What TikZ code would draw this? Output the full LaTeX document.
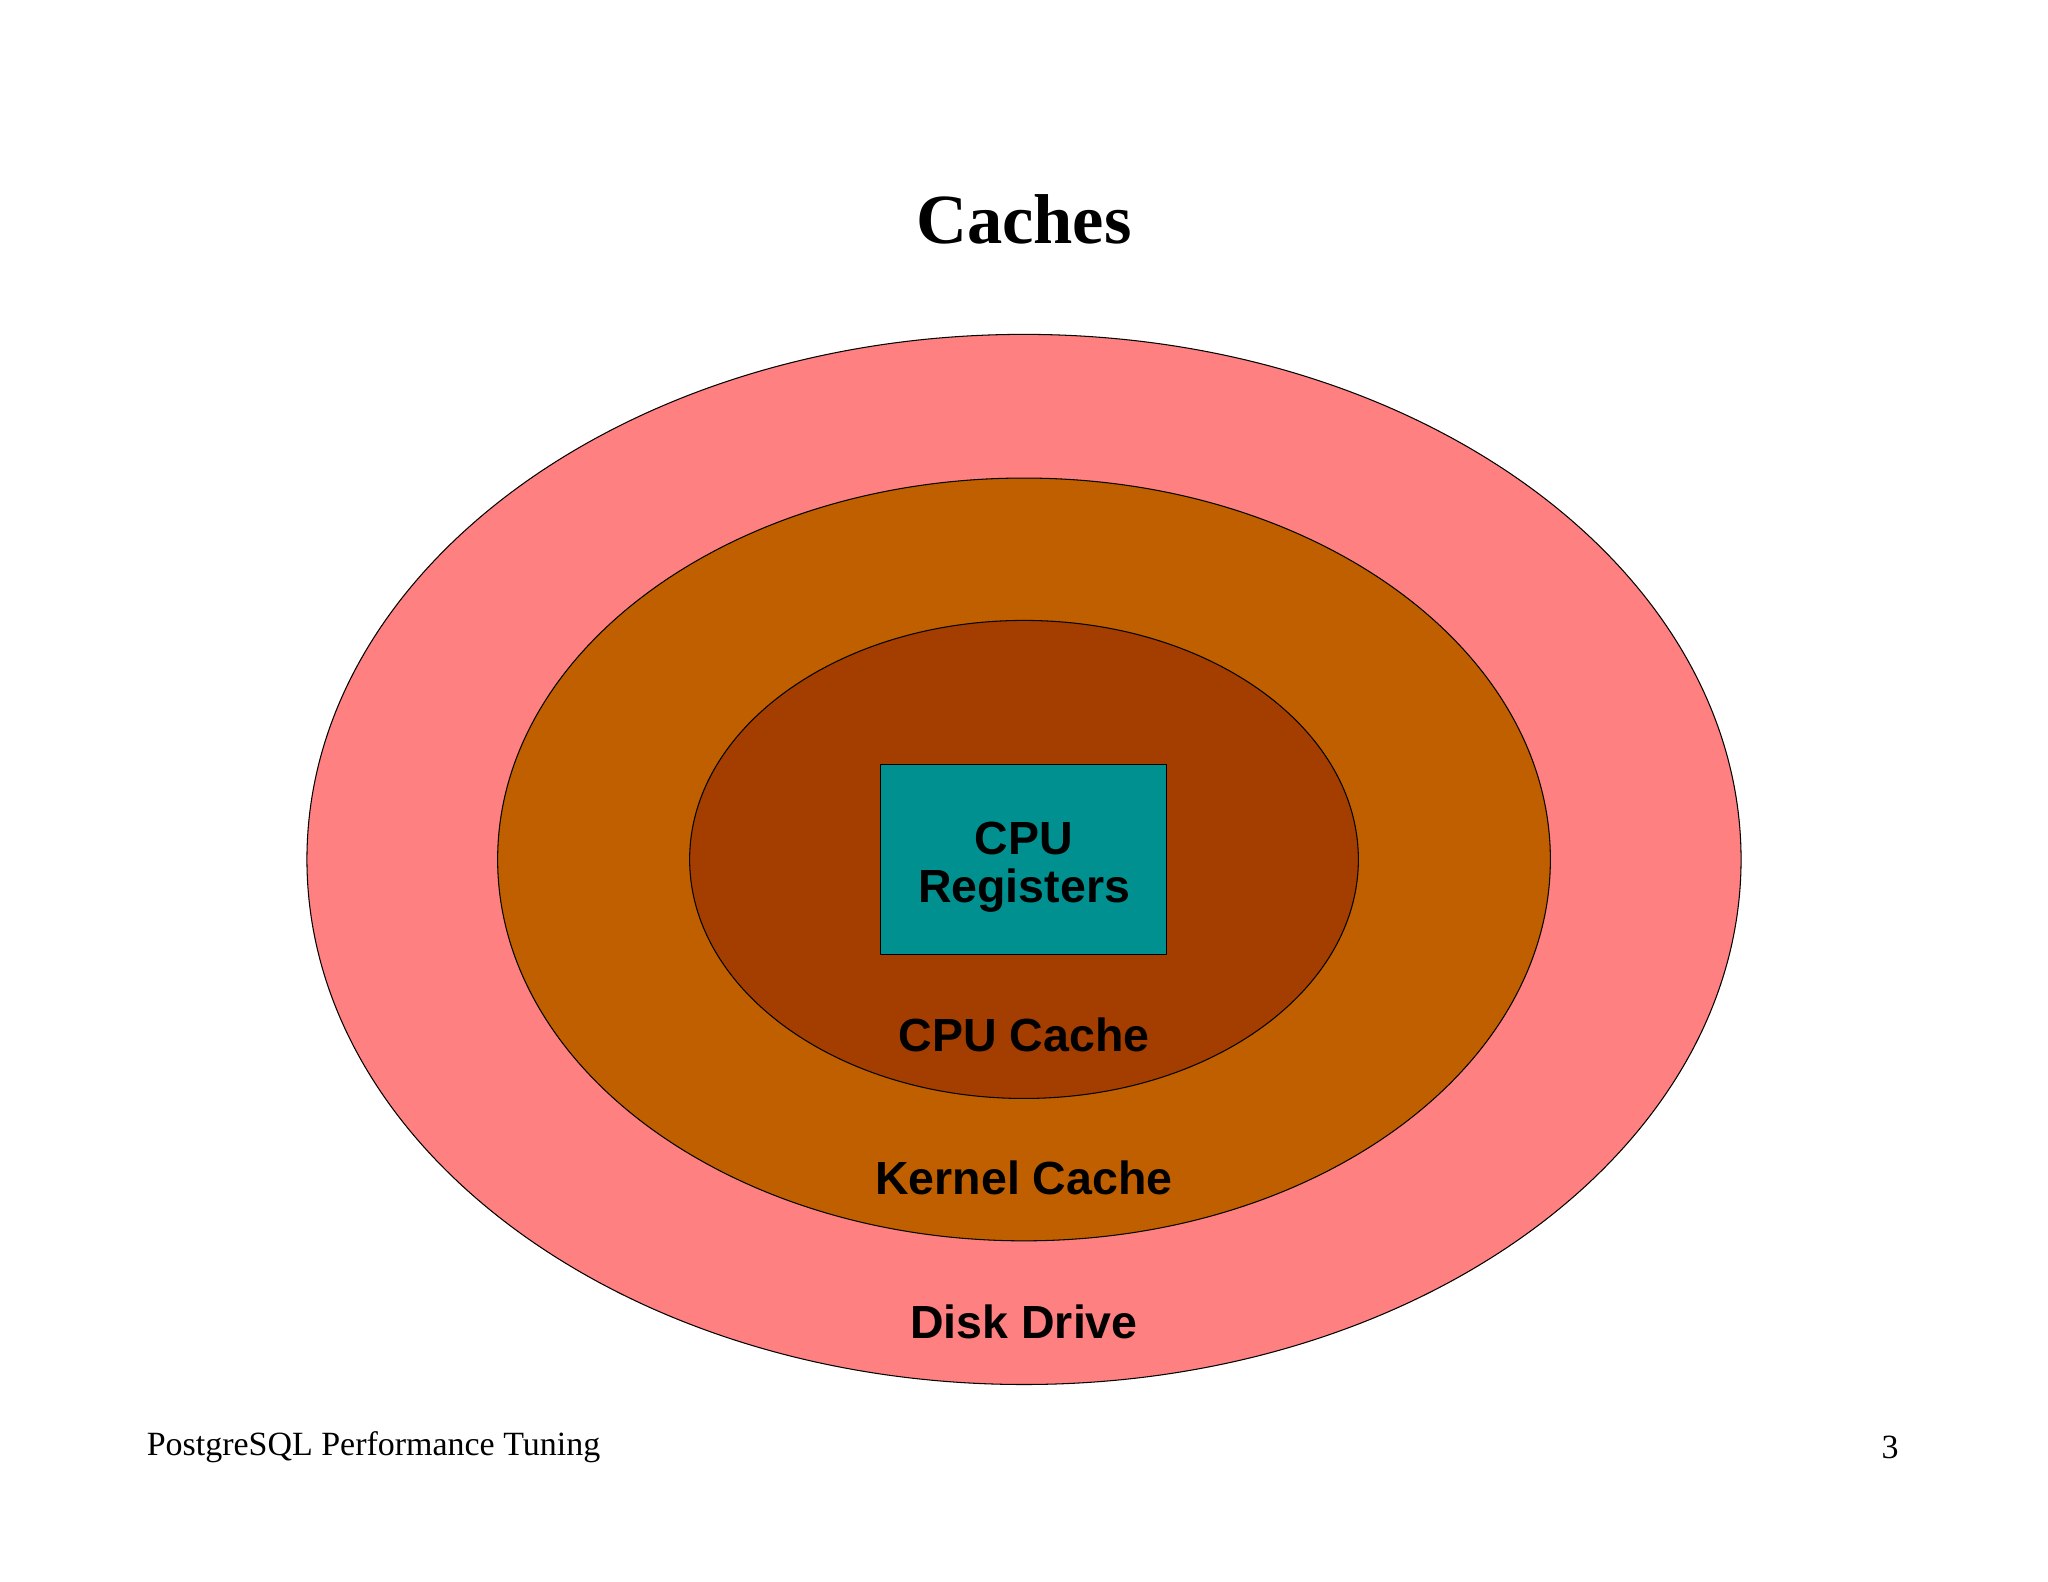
\documentclass[tikz,border=0pt]{standalone}
\usepackage{fontspec}
\setmainfont{Liberation Serif}
\newfontfamily\arialf{Liberation Sans}
\definecolor{diskc}{HTML}{FF8080}
\definecolor{kernc}{HTML}{BF5F00}
\definecolor{cpuc}{HTML}{A33D00}
\definecolor{regc}{HTML}{009090}
\begin{document}
\begin{tikzpicture}[x=0.5pt,y=-0.5pt,
  lbl/.style={font=\arialf\bfseries\fontsize{17.8}{18.5}\selectfont, text=black, align=center},
  ring/.style={draw=black, line width=0.4pt}]
\useasboundingbox (0,0) rectangle (1568,1211);
\fill[white] (0,0) rectangle (1568,1211);
\node[font=\bfseries\fontsize{27}{30}\selectfont] (title) at (784,168) {Caches};
\draw[ring, fill=diskc] (784,658) ellipse [x radius=549, y radius=402];
\draw[ring, fill=kernc] (784,658) ellipse [x radius=403, y radius=292];
\draw[ring, fill=cpuc] (784,658) ellipse [x radius=256, y radius=183];
\node[ring, fill=regc, minimum width=109.5pt, minimum height=73pt, inner sep=0pt] (reg) at (783.5,658) {};
\node[lbl] (regl) at (784,664) {CPU\\Registers};
\node[lbl] (cpu) at (784,792) {CPU Cache};
\node[lbl] (kern) at (784,902) {Kernel Cache};
\node[lbl] (disk) at (784,1012) {Disk Drive};
\node[anchor=west, font=\fontsize{13}{14}\selectfont, inner sep=0pt] (foot) at (112,1108) {PostgreSQL Performance Tuning};
\node[anchor=east, font=\fontsize{13}{14}\selectfont, inner sep=0pt] (page) at (1454,1108) {3};
\end{tikzpicture}
\end{document}
